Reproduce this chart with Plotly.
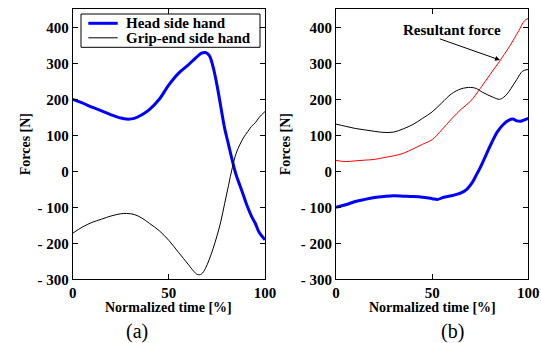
import plotly.graph_objects as go

# ---- data ----
a_head_x = [0, 5, 10, 15, 20, 25, 28, 32, 36, 40, 45, 50, 55, 60, 64, 67, 69, 71, 73, 75, 77, 79, 81, 83, 85, 87, 89, 91, 93, 95, 97, 100]
a_head_y = [200, 190, 178, 168, 157, 148, 145, 147, 157, 172, 200, 240, 272, 295, 315, 328, 330, 322, 290, 240, 180, 120, 75, 30, -10, -40, -70, -100, -125, -145, -170, -190]

a_grip_x = [0, 5, 10, 15, 20, 25, 28, 32, 36, 40, 45, 50, 55, 60, 63, 65, 67, 69, 71, 73, 75, 77, 79, 81, 83, 85, 87, 89, 91, 93, 95, 97, 100]
a_grip_y = [-172, -155, -142, -133, -124, -118, -117, -120, -130, -145, -165, -192, -225, -258, -278, -287, -285, -270, -245, -215, -180, -140, -90, -40, 10, 50, 75, 95, 110, 125, 135, 150, 166]

b_res_x = [0, 5, 10, 15, 20, 25, 30, 35, 40, 45, 50, 55, 60, 65, 70, 75, 80, 85, 90, 95, 98, 100]
b_res_y = [30, 27, 29, 31, 33, 38, 43, 50, 62, 75, 88, 115, 145, 172, 195, 230, 268, 305, 345, 390, 418, 425]

b_grip_x = [0, 5, 10, 15, 20, 25, 30, 35, 40, 45, 50, 55, 60, 65, 70, 73, 76, 79, 82, 85, 87, 89, 91, 94, 97, 100]
b_grip_y = [131, 125, 119, 115, 111, 108, 109, 118, 130, 147, 165, 190, 215, 229, 233, 230, 220, 212, 205, 200, 205, 215, 230, 255, 278, 283]

b_head_x = [0, 5, 10, 15, 20, 25, 30, 35, 40, 45, 50, 53, 56, 60, 65, 68, 71, 73, 75, 78, 81, 84, 87, 90, 92, 94, 96, 98, 100]
b_head_y = [-100, -93, -84, -78, -73, -70, -68, -69, -70, -72, -76, -78, -72, -68, -60, -50, -30, -10, 10, 45, 80, 110, 130, 142, 145, 140, 139, 143, 147]

x_ticks = [0, 50, 100]
y_ticks = [-300, -200, -100, 0, 100, 200, 300, 400]
y_ticktext = ["- 300", "- 200", "- 100", "0", "100", "200", "300", "400"]

legend_names = ["Head side hand", "Grip-end side hand"]
BLUE = "#0000ff"
RED = "#ff0000"

FONT = "Liberation Serif"
W, H = 541, 343

fig = go.Figure()
fig.add_trace(go.Scatter(x=a_head_x, y=a_head_y, mode="lines", name=legend_names[0],
                         line=dict(color=BLUE, width=3, shape="spline"), xaxis="x", yaxis="y"))
fig.add_trace(go.Scatter(x=a_grip_x, y=a_grip_y, mode="lines", name=legend_names[1],
                         line=dict(color="black", width=1, shape="spline"), xaxis="x", yaxis="y"))
fig.add_trace(go.Scatter(x=b_grip_x, y=b_grip_y, mode="lines",
                         line=dict(color="black", width=1, shape="spline"), xaxis="x2", yaxis="y2"))
fig.add_trace(go.Scatter(x=b_res_x, y=b_res_y, mode="lines",
                         line=dict(color=RED, width=1, shape="spline"), xaxis="x2", yaxis="y2"))
fig.add_trace(go.Scatter(x=b_head_x, y=b_head_y, mode="lines",
                         line=dict(color=BLUE, width=3, shape="spline"), xaxis="x2", yaxis="y2"))

def px_x(p):
    return p / W

def px_y(p):
    return 1 - p / H

tickfont = dict(family=FONT, size=15, color="black")
axcommon = dict(showline=True, linecolor="black", linewidth=1, mirror="allticks",
                ticks="inside", ticklen=5, tickcolor="black", showgrid=False, zeroline=False,
                tickfont=tickfont, automargin=False)

xa = dict(range=[0, 100], tickvals=x_ticks, ticktext=[f"<b>{v}</b>" for v in x_ticks], **axcommon)
ya = dict(range=[-300, 450], tickvals=y_ticks, ticktext=[f"<b>{t}</b>" for t in y_ticktext], **axcommon)

fig.update_layout(
    width=W, height=H,
    margin=dict(l=0, r=0, t=0, b=0, autoexpand=False),
    paper_bgcolor="white", plot_bgcolor="white",
    xaxis=dict(domain=[px_x(72.7), px_x(265)], anchor="y", **xa),
    yaxis=dict(domain=[px_y(279.3), px_y(9.3)], anchor="x", **ya),
    xaxis2=dict(domain=[px_x(336), px_x(528.3)], anchor="y2", **xa),
    yaxis2=dict(domain=[px_y(279.3), px_y(9.3)], anchor="x2", **ya),
    showlegend=False,
)

# legend box (drawn in paper space, over the left panel)
fig.add_shape(type="rect", xref="paper", yref="paper",
              x0=px_x(81), x1=px_x(260), y0=px_y(47.3), y1=px_y(14),
              line=dict(color="black", width=1), fillcolor="white", layer="above")
for i, (nm, col, wd) in enumerate(zip(legend_names, [BLUE, "black"], [3, 1])):
    yy = 23.3 + 14.5 * i
    fig.add_shape(type="line", xref="paper", yref="paper",
                  x0=px_x(88.3), x1=px_x(117.7), y0=px_y(yy), y1=px_y(yy),
                  line=dict(color=col, width=wd), layer="above")
    fig.add_annotation(x=px_x(124), y=px_y(yy), xref="paper", yref="paper",
                       xanchor="left", yanchor="middle", text=f"<b>{nm}</b>", showarrow=False,
                       font=dict(family=FONT, size=15, color="black"))

title_font = dict(family=FONT, size=14, color="black")
for cx in [168.9, 432.2]:
    fig.add_annotation(x=px_x(cx), y=px_y(307.5), xref="paper", yref="paper",
                       xanchor="center", yanchor="middle",
                       text="<b>Normalized time [%]</b>", showarrow=False, font=title_font)
for cx in [25, 285]:
    fig.add_annotation(x=px_x(cx), y=px_y(144.3), xref="paper", yref="paper",
                       xanchor="center", yanchor="middle",
                       text="<b>Forces [N]</b>", showarrow=False, textangle=-90, font=title_font)

fig.add_annotation(x=85.3, y=309, xref="x2", yref="y2", ax=53.2, ay=369.4, axref="x2", ayref="y2",
                   text="", showarrow=True, arrowhead=2, arrowsize=1, arrowwidth=1, arrowcolor="black")
fig.add_annotation(x=px_x(452), y=px_y(30), xref="paper", yref="paper",
                   xanchor="center", yanchor="middle", text="<b>Resultant force</b>", showarrow=False,
                   font=dict(family=FONT, size=15, color="black"))
fig.add_annotation(x=px_x(137), y=px_y(331), xref="paper", yref="paper",
                   xanchor="center", yanchor="middle", text="(a)", showarrow=False,
                   font=dict(family=FONT, size=20, color="black"))
fig.add_annotation(x=px_x(452), y=px_y(331), xref="paper", yref="paper",
                   xanchor="center", yanchor="middle", text="(b)", showarrow=False,
                   font=dict(family=FONT, size=20, color="black"))

fig.write_html("out.html", config={"displayModeBar": False},
               post_script="document.body.style.margin='0';")
